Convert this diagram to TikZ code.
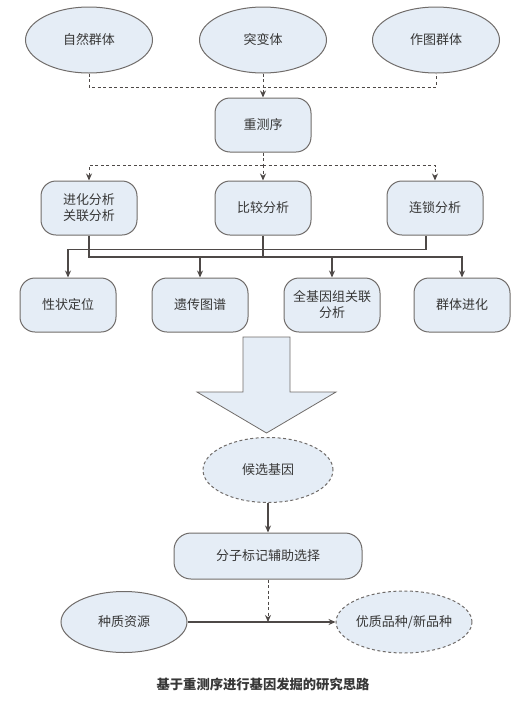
\documentclass[tikz,border=0pt]{standalone}
\usepackage{fontspec}
\setmainfont{Noto Sans CJK SC}
\usetikzlibrary{arrows.meta,positioning,shapes.geometric}
\definecolor{boxfill}{RGB}{229,237,246}
\definecolor{boxline}{RGB}{112,108,106}
\definecolor{wire}{RGB}{78,73,71}
\definecolor{txt}{RGB}{55,55,55}

\begin{document}
\begin{tikzpicture}[x=1pt, y=-1pt, line width=1.3pt, draw=wire, >={Stealth[length=7pt,width=6pt]}]
\tikzset{every node/.style={font=\fontsize{13}{16}\selectfont, text=txt}}
\tikzset{oval/.style={ellipse, draw=boxline, line width=1pt, fill=boxfill, minimum width=127pt, minimum height=66pt, inner sep=0pt}}
\tikzset{rbox/.style={rectangle, rounded corners=15pt, draw=boxline, line width=1pt, fill=boxfill, minimum width=96pt, minimum height=54pt, align=center}}
\tikzset{dash line/.style={dash pattern=on 3pt off 2.5pt, line width=1pt}}
\useasboundingbox (0,0) rectangle (527,702);
% sources
\node[oval] (1) at (89,40) {自然群体};
\node[oval] (2) at (263,40) {突变体};
\node[oval] (3) at (436,40) {作图群体};
\node[rbox] (4) at (263,125) {重测序};
\coordinate (j1) at (263,87);
\draw[dash line] (1.south) |- (j1) -| (3.south);
\draw[dash line, ->] (2.south) -- (4.north);
% analyses
\node[rbox] (5) at (89,208) {进化分析\\关联分析};
\node[rbox] (6) at (263,208) {比较分析};
\node[rbox] (7) at (435,208) {连锁分析};
\coordinate (j2) at (263,165);
\draw[dash line] (4.south) -- (j2);
\draw[dash line, ->] (j2) -| (5.north);
\draw[dash line, ->] (j2) -| (7.north);
\draw[dash line, ->] (j2) -- (6.north);
% results
\node[rbox] (8) at (68,305) {性状定位};
\node[rbox] (9) at (200,305) {遗传图谱};
\node[rbox] (10) at (332,305) {全基因组关联\\分析};
\node[rbox] (11) at (462,305) {群体进化};
\coordinate (bus) at (0,257);
\draw[->] ([xshift=-9pt]7.south) -- ++(0,14) -| (8.north);
\draw[->] (5.south) |- (bus -| 11.north) -- (11.north);
\draw (6.south) -- (6.south |- bus);
\draw[->] (9.north |- bus) -- (9.north);
\draw[->] (10.north |- bus) -- (10.north);
% big arrow
\draw[boxline, fill=boxfill, line width=0.8pt] (243,337) -- (290,337) -- (290,392) -- (336,392) -- (266.5,433) -- (197,392) -- (243,392) -- cycle;
% selection
\node[oval, dash line, draw=boxline, minimum width=130pt, minimum height=65pt] (12) at (268,470) {候选基因};
\node[rbox, rounded corners=17pt, minimum width=188pt, minimum height=46pt] (13) at (268,556) {分子标记辅助选择};
\draw[->] (12.south) -- (13.north);
\node[oval, minimum width=126pt, minimum height=61pt] (14) at (124,622) {种质资源};
\node[oval, dash line, draw=boxline, minimum width=126pt, minimum height=62pt] (15) at (404,622) {优质品种/新品种};
\draw[->] (14) -- (15);
\draw[dash line, ->] (13.south) -- (13.south |- 14.east);
% caption
\node[font=\bfseries\fontsize{13.3}{16}\selectfont] (16) at (263,684) {基于重测序进行基因发掘的研究思路};
\end{tikzpicture}
\end{document}
